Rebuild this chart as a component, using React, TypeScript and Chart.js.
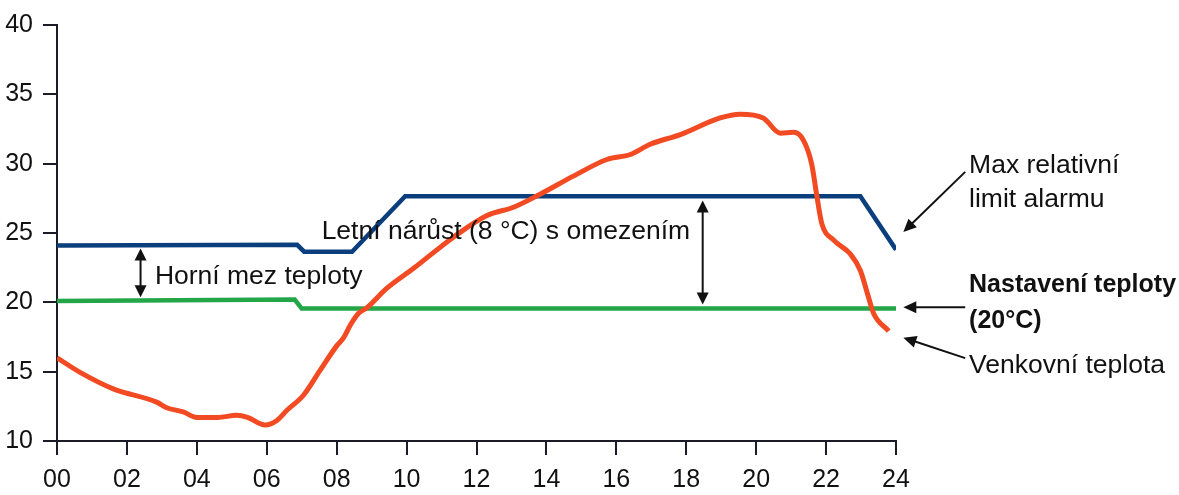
import React, { useEffect, useRef } from 'react';
import { Chart, registerables } from 'chart.js';

Chart.register(...registerables);

// ---- Data ----
const xTickHours = [0, 2, 4, 6, 8, 10, 12, 14, 16, 18, 20, 22, 24];
const xTickLabels = ['00', '02', '04', '06', '08', '10', '12', '14', '16', '18', '20', '22', '24'];
const yTickValues = [10, 15, 20, 25, 30, 35, 40];

const outdoorHours = [
  0, 0.66, 1.61, 2.85, 3.14, 3.61, 4.0, 4.6, 5.14, 5.45, 5.95, 6.3, 6.57, 7.05, 7.52, 8.0,
  8.2, 8.4, 8.62, 8.86, 9.43, 10.2, 11.34, 12.3, 13.06, 13.82, 14.77, 15.73, 16.4, 16.97,
  17.83, 18.97, 19.54, 20.2, 20.69, 21.07, 21.35, 21.59, 21.74, 21.88, 22.21, 22.69,
  22.98, 23.21, 23.36, 23.79,
];
const outdoorTemps = [
  16.0, 14.95, 13.76, 12.8, 12.4, 12.1, 11.7, 11.7, 11.85, 11.7, 11.15, 11.5, 12.2, 13.3, 15.07, 16.86,
  17.45, 18.4, 19.2, 19.6, 21.0, 22.45, 24.7, 26.26, 26.86, 27.8, 29.1, 30.3, 30.66, 31.4,
  32.1, 33.3, 33.57, 33.3, 32.2, 32.26, 31.7, 29.95, 27.6, 25.66, 24.5, 23.5,
  22.3, 20.4, 19.2, 17.93,
];

const alarmHours = [0, 6.87, 7.07, 8.44, 9.96, 22.98, 24.0];
const alarmTemps = [24.1, 24.15, 23.65, 23.65, 27.65, 27.65, 23.8];

const setpointHours = [0, 6.8, 7.0, 24];
const setpointTemps = [20.1, 20.2, 19.55, 19.55];

const labelHorni = 'Horní mez teploty';
const labelLetni = 'Letní nárůst (8 °C) s omezením';
const labelMax = ['Max relativní', 'limit alarmu'];
const labelNastaveni = ['Nastavení teploty', '(20°C)'];
const labelVenkovni = 'Venkovní teplota';

const FONT = '"Liberation Sans", Arial, Helvetica, sans-serif';
const INK = '#111111';

function arrowHead(ctx: CanvasRenderingContext2D, fx: number, fy: number, tx: number, ty: number, len = 13, hw = 6) {
  const a = Math.atan2(ty - fy, tx - fx);
  const bx = tx - len * Math.cos(a);
  const by = ty - len * Math.sin(a);
  const nx = -Math.sin(a);
  const ny = Math.cos(a);
  ctx.beginPath();
  ctx.moveTo(tx, ty);
  ctx.lineTo(bx + nx * hw, by + ny * hw);
  ctx.lineTo(bx - nx * hw, by - ny * hw);
  ctx.closePath();
  ctx.fill();
}

function arrow(ctx: CanvasRenderingContext2D, fx: number, fy: number, tx: number, ty: number) {
  const a = Math.atan2(ty - fy, tx - fx);
  ctx.beginPath();
  ctx.moveTo(fx, fy);
  ctx.lineTo(tx - 10 * Math.cos(a), ty - 10 * Math.sin(a));
  ctx.stroke();
  arrowHead(ctx, fx, fy, tx, ty);
}

function doubleArrow(ctx: CanvasRenderingContext2D, x: number, y1: number, y2: number) {
  ctx.beginPath();
  ctx.moveTo(x, y1 + 8);
  ctx.lineTo(x, y2 - 8);
  ctx.stroke();
  arrowHead(ctx, x, y2, x, y1, 12, 6);
  arrowHead(ctx, x, y1, x, y2, 12, 6);
}

const annotationPlugin = {
  id: 'textAnnotations',
  afterDatasetsDraw(chart: any) {
    const { ctx } = chart;
    const xs = chart.scales.x;
    const ys = chart.scales.y;
    const px = (h: number) => xs.getPixelForValue(h);
    const py = (v: number) => ys.getPixelForValue(v);
    ctx.save();
    ctx.strokeStyle = INK;
    ctx.fillStyle = INK;
    ctx.lineWidth = 2;

    doubleArrow(ctx, px(2.39), py(23.88), py(20.36));
    doubleArrow(ctx, px(18.47), py(27.34), py(19.84));

    arrow(ctx, px(25.98), py(29.41), px(24.21), py(25.07));
    arrow(ctx, px(25.98), py(19.64), px(24.21), py(19.64));
    arrow(ctx, px(25.98), py(15.98), px(24.21), py(17.45));

    ctx.textBaseline = 'alphabetic';
    ctx.textAlign = 'left';
    ctx.font = `26.5px ${FONT}`;
    ctx.fillText(labelHorni, px(2.8), py(21.29));
    ctx.fillText(labelLetni, px(7.57), py(24.6));
    ctx.fillText(labelMax[0], px(26.09), py(29.36));
    ctx.fillText(labelMax[1], px(26.09), py(26.86));
    ctx.fillText(labelVenkovni, px(26.09), py(14.9));
    ctx.font = `bold 25px ${FONT}`;
    ctx.fillText(labelNastaveni[0], px(26.09), py(20.71));
    ctx.fillText(labelNastaveni[1], px(26.09), py(18.14));
    ctx.restore();
  },
};

export default function App() {
  const canvasRef = useRef<HTMLCanvasElement | null>(null);

  useEffect(() => {
    const canvas = canvasRef.current;
    if (!canvas) return;
    const axisColor = '#1c1c28';
    const chart = new Chart(canvas, {
      type: 'line',
      data: {
        datasets: [
          {
            label: 'Venkovní teplota',
            data: outdoorHours.map((h, i) => ({ x: h, y: outdoorTemps[i] })),
            borderColor: '#f24a22',
            borderWidth: 5,
            pointRadius: 0,
            cubicInterpolationMode: 'monotone',
            fill: false,
          },
          {
            label: 'Max relativní limit alarmu',
            data: alarmHours.map((h, i) => ({ x: h, y: alarmTemps[i] })),
            borderColor: '#0b3e7c',
            borderWidth: 4.5,
            pointRadius: 0,
            tension: 0,
            fill: false,
          },
          {
            label: 'Nastavení teploty',
            data: setpointHours.map((h, i) => ({ x: h, y: setpointTemps[i] })),
            borderColor: '#22a648',
            borderWidth: 4.5,
            pointRadius: 0,
            tension: 0,
            fill: false,
          },
        ],
      },
      options: {
        responsive: false,
        animation: false,
        devicePixelRatio: 1,
        layout: { padding: { left: 0, top: 21, right: 283, bottom: 0 } },
        plugins: {
          legend: { display: false },
          tooltip: { enabled: false },
        },
        scales: {
          x: {
            type: 'linear',
            min: 0,
            max: 24,
            afterBuildTicks: (scale: any) => {
              scale.ticks = xTickHours.map((v) => ({ value: v }));
            },
            afterFit: (scale: any) => {
              scale.height = 54;
            },
            ticks: {
              autoSkip: false,
              maxRotation: 0,
              padding: 10,
              color: INK,
              font: { family: FONT, size: 25 },
              callback: (value: any) => {
                const i = xTickHours.indexOf(Number(value));
                return i >= 0 ? xTickLabels[i] : '';
              },
            },
            grid: {
              display: true,
              drawOnChartArea: false,
              drawTicks: true,
              tickLength: 14,
              color: axisColor,
              lineWidth: 2,
            },
            border: { display: true, color: axisColor, width: 2 },
          },
          y: {
            type: 'linear',
            min: 10,
            max: 40,
            afterBuildTicks: (scale: any) => {
              scale.ticks = yTickValues.map((v) => ({ value: v }));
            },
            afterFit: (scale: any) => {
              scale.width = 57;
            },
            ticks: {
              padding: 10,
              color: INK,
              font: { family: FONT, size: 25 },
              callback: (value: any) => String(value),
            },
            grid: {
              display: true,
              drawOnChartArea: false,
              drawTicks: true,
              tickLength: 14,
              color: axisColor,
              lineWidth: 2,
            },
            border: { display: true, color: axisColor, width: 2 },
          },
        },
      },
      plugins: [annotationPlugin],
    } as any);
    return () => chart.destroy();
  }, []);

  return (
    <div style={{ position: 'absolute', left: 0, top: 0, width: 1179, height: 495, background: '#ffffff' }}>
      <canvas ref={canvasRef} width={1179} height={495} style={{ display: 'block' }} />
    </div>
  );
}
